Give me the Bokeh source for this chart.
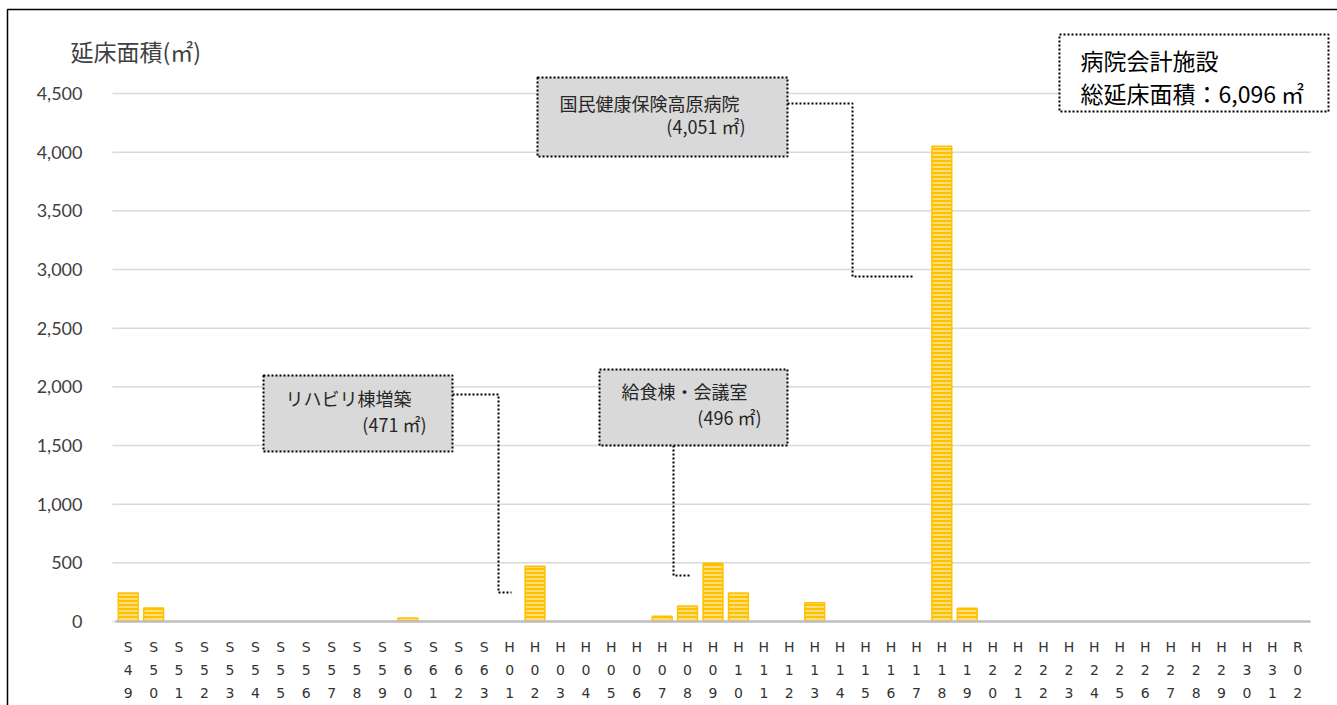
from bokeh.plotting import figure
from bokeh.models import Range1d, FixedTicker, BoxAnnotation, Label
from bokeh.embed import file_html
from bokeh.resources import INLINE

# ---- data ----
categories = ["S49", "S50", "S51", "S52", "S53", "S54", "S55", "S56", "S57", "S58",
              "S59", "S60", "S61", "S62", "S63",
              "H01", "H02", "H03", "H04", "H05", "H06", "H07", "H08", "H09", "H10",
              "H11", "H12", "H13", "H14", "H15", "H16", "H17", "H18", "H19", "H20",
              "H21", "H22", "H23", "H24", "H25", "H26", "H27", "H28", "H29", "H30",
              "H31", "R02"]
floor_area = [243, 114, 0, 0, 0, 0, 0, 0, 0, 0,
              0, 30, 0, 0, 0,
              0, 471, 0, 0, 0, 0, 44, 132, 496, 242,
              0, 0, 160, 0, 0, 0, 0, 4051, 113, 0,
              0, 0, 0, 0, 0, 0, 0, 0, 0, 0,
              0, 0]
y_ticks = [0, 500, 1000, 1500, 2000, 2500, 3000, 3500, 4000, 4500]
y_tick_labels = ["0", "500", "1,000", "1,500", "2,000", "2,500", "3,000", "3,500", "4,000", "4,500"]

y_title = "延床面積(㎡)"
callouts = [
    ("リハビリ棟増築", "(471 ㎡)"),
    ("給食棟・会議室", "(496 ㎡)"),
    ("国民健康保険高原病院", "(4,051 ㎡)"),
]
total_lines = ["病院会計施設", "総延床面積：6,096 ㎡"]

# ---- layout constants ----
W, H = 1337, 705
FL, FR, FT, FB = 115, 1310, 93, 621  # plot area edges in canvas px
AXMIN, AXMAX = -0.5, len(categories) - 0.5
AYMIN, AYMAX = 0, 4500


def X(px):
    return AXMIN + (px - FL) * (AXMAX - AXMIN) / (FR - FL)


def Y(py):
    return AYMIN + (FB - py) * (AYMAX - AYMIN) / (FB - FT)


p = figure(width=W, height=H, output_backend="svg", toolbar_location=None,
           x_range=Range1d(X(0), X(W)), y_range=Range1d(Y(H), Y(0)),
           min_border_left=0, min_border_right=0,
           min_border_top=0, min_border_bottom=0)
p.outline_line_color = None
p.background_fill_color = "white"
p.border_fill_color = "white"
p.xgrid.grid_line_color = None
p.ygrid.grid_line_color = None

# horizontal gridlines
p.segment(x0=[X(112)] * len(y_ticks), x1=[X(FR)] * len(y_ticks),
          y0=y_ticks, y1=y_ticks, line_color="#D9D9D9", line_width=1.5)

# bars (only the non-empty years)
xs = [i for i, v in enumerate(floor_area) if v > 0]
tops = [v for v in floor_area if v > 0]
p.vbar(x=xs, top=tops, width=0.78, bottom=0,
       fill_color="#FFC000", line_color="#FFC000", line_width=1.5,
       hatch_pattern="horizontal_line", hatch_color="#FFE699",
       hatch_weight=1.6, hatch_scale=4)

# axes (drawn inside the canvas at fixed positions)
p.xaxis.fixed_location = 0
p.xaxis.bounds = (AXMIN, AXMAX)
p.xaxis.ticker = FixedTicker(ticks=list(range(len(categories))))
p.xaxis.major_label_overrides = {i: "\n".join(c) for i, c in enumerate(categories)}
p.xaxis.major_label_text_font = "DejaVu Sans"
p.xaxis.major_label_text_font_size = "14px"
p.xaxis.major_label_text_color = "#333333"
p.xaxis.major_label_text_line_height = 1.45
p.xaxis.major_label_standoff = 11
p.xaxis.major_tick_line_color = None
p.xaxis.minor_tick_line_color = None
p.xaxis.axis_line_color = "#BFBFBF"
p.xaxis.axis_line_width = 2.5

p.yaxis.fixed_location = AXMIN
p.yaxis.bounds = (AYMIN, AYMAX)
p.yaxis.ticker = FixedTicker(ticks=y_ticks)
p.yaxis.major_label_overrides = {t: l for t, l in zip(y_ticks, y_tick_labels)}
p.yaxis.major_label_text_font = "Lato"
p.yaxis.major_label_text_font_size = "18px"
p.yaxis.major_label_text_color = "#404040"
p.yaxis.major_label_standoff = 27
p.yaxis.major_tick_line_color = None
p.yaxis.minor_tick_line_color = None
p.yaxis.axis_line_color = None

box_units = dict(left_units="canvas", right_units="canvas",
                 top_units="canvas", bottom_units="canvas")

# outer frame of the picture
p.add_layout(BoxAnnotation(left=7, right=1400, top=9, bottom=800, **box_units,
                           fill_alpha=0, line_color="black", line_alpha=1,
                           line_width=1.5))

# y title
p.add_layout(Label(x=70, y=50, x_units="canvas", y_units="canvas", text=y_title,
                   text_font="Noto Sans CJK JP", text_font_size="23px",
                   text_color="#404040", text_baseline="middle", text_align="left"))

dot = dict(line_color="black", line_alpha=1, line_dash="2 2", line_width=2)

# connectors
p.line([X(452), X(498), X(498), X(511)], [Y(394), Y(394), Y(592), Y(592)], **dot)
p.line([X(673), X(673), X(690)], [Y(445), Y(575), Y(575)], **dot)
p.line([X(787), X(852), X(852), X(913)], [Y(103), Y(103), Y(276), Y(276)], **dot)

boxes = [
    # left, right, top, bottom, line1 (x, y), line2 right (x, y)
    (263, 452, 375, 451, (285, 397), (426, 423)),
    (599, 787, 369, 445, (621, 390), (761, 416)),
    (537, 787, 77, 156, (559, 102), (745, 125)),
]
for (l, r, t, b, (x1, y1), (x2, y2)), (t1, t2) in zip(boxes, callouts):
    p.add_layout(BoxAnnotation(left=l, right=r, top=t, bottom=b, **box_units,
                               fill_color="#D9D9D9", fill_alpha=1, **dot))
    p.add_layout(Label(x=x1, y=y1, x_units="canvas", y_units="canvas", text=t1,
                       text_font="Noto Sans CJK JP", text_font_size="18px",
                       text_color="#262626", text_baseline="middle", text_align="left"))
    p.add_layout(Label(x=x2, y=y2, x_units="canvas", y_units="canvas", text=t2,
                       text_font="Noto Sans CJK JP", text_font_size="18px",
                       text_color="#262626", text_baseline="middle", text_align="right"))

# total box
p.add_layout(BoxAnnotation(left=1059, right=1328, top=34, bottom=111, **box_units,
                           fill_color="white", fill_alpha=1, **dot))
for txt, yy in zip(total_lines, [59, 92]):
    p.add_layout(Label(x=1080, y=yy, x_units="canvas", y_units="canvas", text=txt,
                       text_font="Noto Sans CJK JP", text_font_size="23px",
                       text_color="#000000", text_baseline="middle", text_align="left"))

open("out.html", "w").write(file_html(p, INLINE))
